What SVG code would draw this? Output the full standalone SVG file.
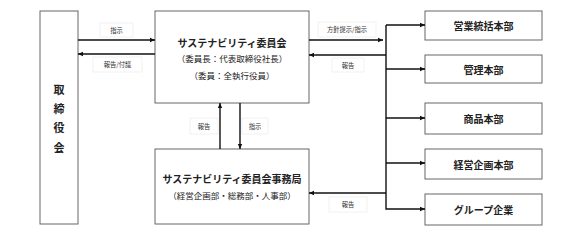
<svg xmlns="http://www.w3.org/2000/svg" width="580" height="240" viewBox="0 0 580 240">
<style>
text{font-family:"Noto Sans CJK JP","Liberation Sans",sans-serif;fill:#222;text-anchor:middle;dominant-baseline:central}
.box{fill:#fff;stroke:#666;stroke-width:1}
.t{font-size:10px;font-weight:bold}
.s{font-size:8.5px}
.lb{fill:#fff;stroke:#eee;stroke-width:0.8}
.l{font-size:6.3px;fill:#333}
.c{fill:none;stroke:#111;stroke-width:1.4}
</style>
<defs>
<marker id="ah" markerWidth="6" markerHeight="6" refX="5" refY="3" orient="auto" markerUnits="userSpaceOnUse">
<path d="M0,0.8 L5,3 L0,5.2 Z" fill="#111"/>
</marker>
</defs>
<rect width="580" height="240" fill="#fff"/>
<g id="board">
<rect class="box" x="40" y="11" width="38" height="213"/>
<text class="t" x="59" y="89" style="font-size:11px">取</text>
<text class="t" x="59" y="108" style="font-size:11px">締</text>
<text class="t" x="59" y="127" style="font-size:11px">役</text>
<text class="t" x="59" y="147" style="font-size:11px">会</text>
</g>
<g id="committee">
<rect class="box" x="155" y="11" width="154" height="92"/>
<text class="t" x="232" y="42">サステナビリティ委員会</text>
<text class="s" x="232" y="58">（委員長：代表取締役社長）</text>
<text class="s" x="232" y="75">（委員：全執行役員）</text>
</g>
<g id="secretariat">
<rect class="box" x="155" y="149" width="154" height="75"/>
<text class="t" x="232" y="178">サステナビリティ委員会事務局</text>
<text class="s" x="232" y="195">（経営企画部・総務部・人事部）</text>
</g>
<g id="sales">
<rect class="box" x="425" y="11" width="117" height="29"/>
<text class="t" x="483.5" y="25.5">営業統括本部</text>
</g>
<g id="admin">
<rect class="box" x="425" y="55" width="117" height="28"/>
<text class="t" x="483.5" y="69">管理本部</text>
</g>
<g id="product">
<rect class="box" x="425" y="103" width="117" height="31"/>
<text class="t" x="483.5" y="118.5">商品本部</text>
</g>
<g id="planning">
<rect class="box" x="425" y="149" width="117" height="30"/>
<text class="t" x="483.5" y="164">経営企画本部</text>
</g>
<g id="group">
<rect class="box" x="425" y="194" width="117" height="31"/>
<text class="t" x="483.5" y="209.5">グループ企業</text>
</g>
<g id="connectors">
<line class="c" x1="78" y1="40" x2="155" y2="40" marker-end="url(#ah)"/>
<line class="c" x1="155" y1="54" x2="78" y2="54" marker-end="url(#ah)"/>
<line class="c" x1="309" y1="40" x2="383" y2="40" marker-end="url(#ah)"/>
<line class="c" x1="386" y1="55" x2="309" y2="55" marker-end="url(#ah)"/>
<line class="c" x1="386" y1="193" x2="309" y2="193" marker-end="url(#ah)"/>
<line class="c" x1="220" y1="149" x2="220" y2="103" marker-end="url(#ah)"/>
<line class="c" x1="240" y1="103" x2="240" y2="149" marker-end="url(#ah)"/>
<path class="c" d="M386,25 V209 H425" marker-end="url(#ah)"/>
<line class="c" x1="386" y1="25" x2="425" y2="25" marker-end="url(#ah)"/>
<line class="c" x1="386" y1="69" x2="425" y2="69" marker-end="url(#ah)"/>
<line class="c" x1="386" y1="118" x2="425" y2="118" marker-end="url(#ah)"/>
<line class="c" x1="386" y1="163" x2="425" y2="163" marker-end="url(#ah)"/>
<rect class="lb" x="100" y="23" width="33" height="14"/>
<text class="l" x="116.5" y="30">指示</text>
<rect class="lb" x="93" y="57" width="49" height="15"/>
<text class="l" x="117.5" y="64.5">報告/付議</text>
<rect class="lb" x="318" y="22" width="58" height="15"/>
<text class="l" x="347" y="29.5">方針提示/指示</text>
<rect class="lb" x="332" y="58" width="32" height="14"/>
<text class="l" x="348" y="65">報告</text>
<rect class="lb" x="329" y="197" width="38" height="15"/>
<text class="l" x="348" y="204.5">報告</text>
<rect class="lb" x="190" y="118" width="28" height="16"/>
<text class="l" x="204" y="126">報告</text>
<rect class="lb" x="242" y="118" width="26" height="16"/>
<text class="l" x="255" y="126">指示</text>
</g>
</svg>
